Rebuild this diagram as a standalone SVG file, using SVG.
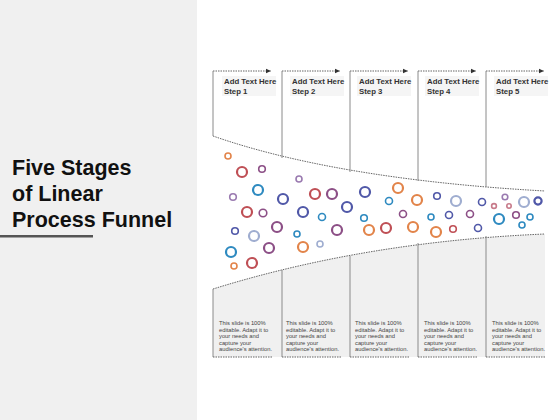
<svg xmlns="http://www.w3.org/2000/svg" width="560" height="420" viewBox="0 0 560 420">
<style>
.vl{stroke:#8a8a8a;stroke-width:1;fill:none}
.dl{stroke:#666;stroke-width:1;stroke-dasharray:1.5,1;fill:none}
.hd{font-family:"Liberation Sans",Arial,sans-serif;font-size:7.8px;font-weight:bold;fill:#333}
.bt{font-family:"Liberation Sans",Arial,sans-serif;font-size:5.8px;fill:#444}
.tt{font-family:"Liberation Sans",Arial,sans-serif;font-size:21.5px;font-weight:bold;fill:#111}
.hb{fill:#f5f5f5}
.o{stroke:#e2844a;fill:none}
.r{stroke:#bf4f55;fill:none}
.p{stroke:#8c4f86;fill:none}
.i{stroke:#5058a8;fill:none}
.b{stroke:#2e8ac0;fill:none}
.l{stroke:#9fadd0;fill:none}
.k{stroke:#c77a8a;fill:none}
.q{stroke:#9a7ab0;fill:none}
.L{stroke-width:2.2}
.S{stroke-width:1.6}
</style>
<defs>
<marker id="ah" markerWidth="6" markerHeight="6" refX="5" refY="3" orient="auto" markerUnits="userSpaceOnUse">
<path d="M0,0.8 L5,3 L0,5.2 Z" fill="#333"/>
</marker>
</defs>
<rect x="0" y="0" width="560" height="420" fill="#ffffff"/>
<rect x="0" y="0" width="197" height="420" fill="#f0f0f0"/>
<g id="title">
<text class="tt" x="12" y="175">Five Stages</text>
<text class="tt" x="12" y="201">of Linear</text>
<text class="tt" x="12" y="227">Process Funnel</text>
<rect x="0" y="235" width="93" height="2.5" fill="#555"/>
</g>
<g id="funnel">
<path d="M213,289 C290,265 400,240 545,234 L545,357 L213,357 Z" fill="#f0f0f0"/>
<path class="dl" d="M213,136 C290,163 400,183 545,191"/>
<path class="dl" d="M213,289 C290,265 400,240 545,234"/>
</g>
<g id="connectors">
<line class="dl" x1="213" y1="71" x2="271" y2="71" marker-end="url(#ah)"/>
<line class="dl" x1="282" y1="71" x2="340" y2="71" marker-end="url(#ah)"/>
<line class="dl" x1="350" y1="71" x2="408" y2="71" marker-end="url(#ah)"/>
<line class="dl" x1="418" y1="71" x2="476" y2="71" marker-end="url(#ah)"/>
<line class="dl" x1="486" y1="71" x2="544" y2="71" marker-end="url(#ah)"/>
</g>
<g id="step1">
<line class="vl" x1="213" y1="71" x2="213" y2="136"/>
<rect class="hb" x="222" y="76" width="54" height="20"/>
<text class="hd" x="224" y="84">Add Text Here</text>
<text class="hd" x="224" y="94">Step 1</text>
<line class="vl" x1="213" y1="289" x2="213" y2="357"/>
<line class="dl" x1="213" y1="357" x2="272" y2="357"/>
<text class="bt"><tspan x="219" y="325">This slide is 100%</tspan><tspan x="219" y="331.5">editable. Adapt it to</tspan><tspan x="219" y="338">your needs and</tspan><tspan x="219" y="344.5">capture your</tspan><tspan x="219" y="351">audience's attention.</tspan></text>
</g>
<g id="step2">
<line class="vl" x1="282" y1="71" x2="282" y2="158"/>
<rect class="hb" x="290" y="76" width="54" height="20"/>
<text class="hd" x="292" y="84">Add Text Here</text>
<text class="hd" x="292" y="94">Step 2</text>
<line class="vl" x1="282" y1="270" x2="282" y2="357"/>
<line class="dl" x1="282" y1="357" x2="341" y2="357"/>
<text class="bt"><tspan x="286" y="325">This slide is 100%</tspan><tspan x="286" y="331.5">editable. Adapt it to</tspan><tspan x="286" y="338">your needs and</tspan><tspan x="286" y="344.5">capture your</tspan><tspan x="286" y="351">audience's attention.</tspan></text>
</g>
<g id="step3">
<line class="vl" x1="350" y1="71" x2="350" y2="172"/>
<rect class="hb" x="357" y="76" width="54" height="20"/>
<text class="hd" x="359" y="84">Add Text Here</text>
<text class="hd" x="359" y="94">Step 3</text>
<line class="vl" x1="350" y1="256" x2="350" y2="357"/>
<line class="dl" x1="350" y1="357" x2="409" y2="357"/>
<text class="bt"><tspan x="355" y="325">This slide is 100%</tspan><tspan x="355" y="331.5">editable. Adapt it to</tspan><tspan x="355" y="338">your needs and</tspan><tspan x="355" y="344.5">capture your</tspan><tspan x="355" y="351">audience's attention.</tspan></text>
</g>
<g id="step4">
<line class="vl" x1="418" y1="71" x2="418" y2="181"/>
<rect class="hb" x="425" y="76" width="54" height="20"/>
<text class="hd" x="427" y="84">Add Text Here</text>
<text class="hd" x="427" y="94">Step 4</text>
<line class="vl" x1="418" y1="243" x2="418" y2="357"/>
<line class="dl" x1="418" y1="357" x2="477" y2="357"/>
<text class="bt"><tspan x="424" y="325">This slide is 100%</tspan><tspan x="424" y="331.5">editable. Adapt it to</tspan><tspan x="424" y="338">your needs and</tspan><tspan x="424" y="344.5">capture your</tspan><tspan x="424" y="351">audience's attention.</tspan></text>
</g>
<g id="step5">
<line class="vl" x1="486" y1="71" x2="486" y2="187"/>
<rect class="hb" x="494" y="76" width="54" height="20"/>
<text class="hd" x="496" y="84">Add Text Here</text>
<text class="hd" x="496" y="94">Step 5</text>
<line class="vl" x1="486" y1="236" x2="486" y2="357"/>
<line class="dl" x1="486" y1="357" x2="545" y2="357"/>
<text class="bt"><tspan x="492" y="325">This slide is 100%</tspan><tspan x="492" y="331.5">editable. Adapt it to</tspan><tspan x="492" y="338">your needs and</tspan><tspan x="492" y="344.5">capture your</tspan><tspan x="492" y="351">audience's attention.</tspan></text>
</g>
<g id="bubbles">
<circle class="o S" cx="228" cy="156" r="3"/>
<circle class="r L" cx="242" cy="172" r="5"/>
<circle class="p S" cx="262" cy="169" r="3.3"/>
<circle class="q S" cx="299" cy="179" r="3"/>
<circle class="b L" cx="258" cy="190" r="5"/>
<circle class="q S" cx="233" cy="197" r="3.3"/>
<circle class="i L" cx="283" cy="199" r="5"/>
<circle class="r L" cx="315" cy="194" r="5"/>
<circle class="p L" cx="332" cy="194" r="5"/>
<circle class="i L" cx="365" cy="192" r="5"/>
<circle class="i L" cx="347" cy="207" r="5"/>
<circle class="r L" cx="247" cy="212" r="5"/>
<circle class="p S" cx="263" cy="213" r="3.8"/>
<circle class="i L" cx="303" cy="212" r="5"/>
<circle class="b S" cx="322" cy="217" r="3.5"/>
<circle class="b S" cx="364" cy="218" r="3.3"/>
<circle class="i S" cx="235" cy="231" r="3.3"/>
<circle class="l L" cx="254" cy="236" r="5"/>
<circle class="p L" cx="277" cy="227" r="5"/>
<circle class="b S" cx="297" cy="234" r="3"/>
<circle class="p L" cx="337" cy="230" r="5"/>
<circle class="o L" cx="369" cy="230" r="5"/>
<circle class="b L" cx="231" cy="252" r="5"/>
<circle class="p L" cx="269" cy="248" r="5"/>
<circle class="o L" cx="303" cy="247" r="5"/>
<circle class="l S" cx="320" cy="244" r="3"/>
<circle class="o S" cx="234" cy="266" r="3"/>
<circle class="r L" cx="252" cy="263" r="5"/>
<circle class="o L" cx="398" cy="188" r="5"/>
<circle class="b S" cx="389" cy="201" r="3.5"/>
<circle class="o L" cx="417" cy="200" r="5"/>
<circle class="i S" cx="437" cy="196" r="3.3"/>
<circle class="l L" cx="456" cy="201" r="5"/>
<circle class="i S" cx="482" cy="202" r="3.5"/>
<circle class="k S" cx="494" cy="206" r="2.4"/>
<circle class="q S" cx="505" cy="197" r="2.8"/>
<circle class="k S" cx="509" cy="206" r="2.2"/>
<circle class="l L" cx="524" cy="202" r="5"/>
<circle class="i L" cx="538" cy="201" r="3.6"/>
<circle class="p S" cx="403" cy="214" r="3.5"/>
<circle class="b S" cx="431" cy="217" r="3"/>
<circle class="i S" cx="449" cy="215" r="3.5"/>
<circle class="p S" cx="470" cy="214" r="3.5"/>
<circle class="b L" cx="499" cy="219" r="5"/>
<circle class="p S" cx="516" cy="215" r="3.3"/>
<circle class="b S" cx="530" cy="217" r="3"/>
<circle class="r L" cx="386" cy="228" r="5"/>
<circle class="o L" cx="413" cy="227" r="5"/>
<circle class="o L" cx="436" cy="232" r="5"/>
<circle class="r S" cx="453" cy="229" r="3.3"/>
<circle class="i S" cx="478" cy="228" r="3.5"/>
<circle class="b S" cx="522" cy="225" r="3"/>
</g>
</svg>
